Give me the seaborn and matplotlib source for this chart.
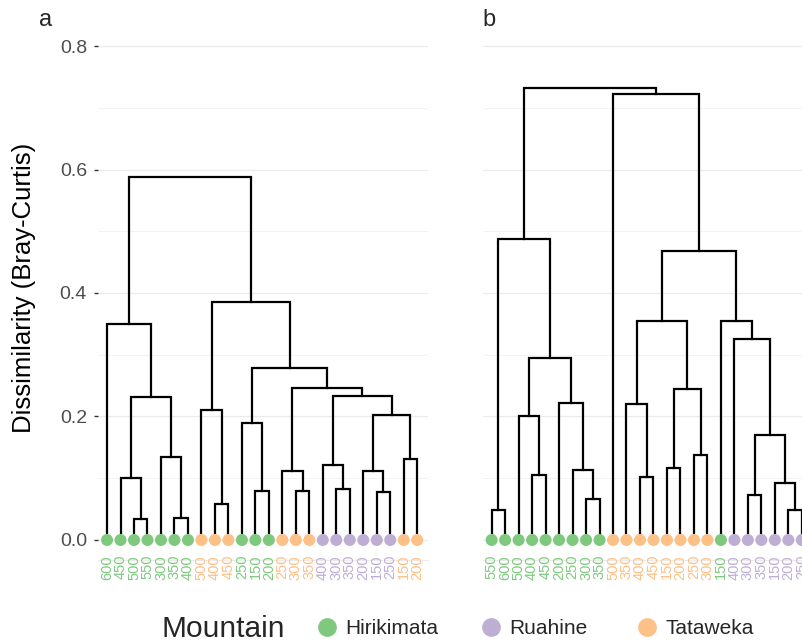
import numpy as np
import pandas as pd
import matplotlib
matplotlib.use("Agg")
import matplotlib.pyplot as plt
import seaborn as sns
from matplotlib.lines import Line2D

# Mountain colours
mountains = ["Hirikimata", "Ruahine", "Tataweka"]
mountain_colors = {"Hirikimata": "#7FC97F", "Ruahine": "#BEAED4", "Tataweka": "#FDC086"}
code_to_mountain = {"H": "Hirikimata", "R": "Ruahine", "T": "Tataweka"}

# ---- panel a: leaves in dendrogram order ----
a_elevation = [600, 450, 500, 550, 300, 350, 400, 500, 400, 450, 250, 150,
               200, 250, 300, 350, 400, 300, 350, 200, 150, 250, 150, 200]
a_mountain = ["H"] * 7 + ["T"] * 3 + ["H"] * 3 + ["T"] * 3 + ["R"] * 6 + ["T"] * 2
# merges: node ids 0..23 are leaves, 24+k is the k-th merge
a_merge_left = [2, 1, 5, 4, 25, 0, 8, 7, 11, 10, 14, 13, 17, 16, 20, 19, 22, 39, 37, 35, 33, 31, 29]
a_merge_right = [3, 24, 6, 26, 27, 28, 9, 30, 12, 32, 15, 34, 18, 36, 21, 38, 23, 40, 41, 42, 43, 44, 45]
a_merge_height = [0.034, 0.101, 0.036, 0.134, 0.232, 0.350, 0.059, 0.210, 0.080, 0.189, 0.079, 0.111,
                  0.083, 0.122, 0.077, 0.112, 0.131, 0.203, 0.233, 0.246, 0.278, 0.386, 0.588]

# ---- panel b: leaves in dendrogram order ----
b_elevation = [550, 600, 500, 400, 450, 200, 250, 300, 350, 500, 350, 400,
               450, 150, 200, 250, 300, 150, 400, 300, 350, 150, 200, 250]
b_mountain = ["H"] * 9 + ["T"] * 8 + ["H"] + ["R"] * 6
b_merge_left = [0, 3, 2, 7, 6, 5, 26, 24, 11, 10, 13, 15, 34, 33, 19, 22, 21, 38, 18, 17, 37, 9, 31]
b_merge_right = [1, 4, 25, 8, 27, 28, 29, 30, 12, 32, 14, 16, 35, 36, 20, 23, 39, 40, 41, 42, 43, 44, 45]
b_merge_height = [0.049, 0.105, 0.201, 0.067, 0.113, 0.222, 0.294, 0.488, 0.102, 0.220, 0.116, 0.137,
                  0.245, 0.354, 0.073, 0.049, 0.093, 0.170, 0.325, 0.355, 0.468, 0.722, 0.732]

y_ticks = [0.0, 0.2, 0.4, 0.6, 0.8]
y_minor = [0.1, 0.3, 0.5, 0.7]

sns.set_theme(style="white")
plt.rcParams["font.family"] = ["Liberation Sans", "DejaVu Sans"]

W, H = 803, 644
fig = plt.figure(figsize=(W / 100, H / 100), dpi=100)
ax_a = fig.add_axes([98 / W, 96 / H, 330 / W, 520.5 / H])
ax_b = fig.add_axes([483 / W, 96 / H, 330 / W, 520.5 / H])


def draw_dendrogram(ax, elevation, mcodes, left, right, heights, xlim, show_y):
    n = len(elevation)
    xpos = list(range(n))
    ypos = [0.0] * n
    for l, r, h in zip(left, right, heights):
        xl, xr = xpos[l], xpos[r]
        ax.plot([xl, xl, xr, xr], [ypos[l], h, h, ypos[r]], color="black", lw=1.6,
                solid_joinstyle="miter", solid_capstyle="projecting", zorder=2)
        xpos.append((xl + xr) / 2)
        ypos.append(h)

    leaves = pd.DataFrame({
        "pos": np.arange(n),
        "y": np.zeros(n),
        "mountain": [code_to_mountain[c] for c in mcodes],
        "elevation": [str(e) for e in elevation],
    })
    sns.scatterplot(data=leaves, x="pos", y="y", hue="mountain", palette=mountain_colors,
                    s=75, linewidth=0, legend=False, ax=ax, zorder=3, clip_on=False)

    ax.set_xlim(*xlim)
    ax.set_ylim(-0.013, 0.83)
    ax.set_yticks(y_ticks)
    ax.set_yticks(y_minor, minor=True)
    ax.grid(which="major", axis="y", color="#ebebeb", lw=0.9)
    ax.grid(which="minor", axis="y", color="#f2f2f2", lw=0.7)
    ax.grid(which="major", axis="x", visible=False)
    ax.axhline(-0.032, color="#ebebeb", lw=0.9, clip_on=False, zorder=0)
    for s in ax.spines.values():
        s.set_visible(False)

    ax.set_xticks(leaves["pos"])
    ax.set_xticklabels(leaves["elevation"], rotation=90, fontsize=10.5)
    for lab, m in zip(ax.get_xticklabels(), leaves["mountain"]):
        lab.set_color(mountain_colors[m])
    ax.tick_params(axis="x", length=0, pad=5)
    ax.set_xlabel("")
    ax.set_ylabel("")
    if show_y:
        ax.set_yticklabels([f"{t:.1f}" for t in y_ticks])
        ax.tick_params(axis="y", which="major", length=3, width=1, color="#333333",
                       labelsize=14, labelcolor="#4d4d4d", pad=5, left=True)
        ax.tick_params(axis="y", which="minor", length=0)
    else:
        ax.set_yticklabels([])
        ax.tick_params(axis="y", which="both", length=0)


draw_dendrogram(ax_a, a_elevation, a_mountain, a_merge_left, a_merge_right, a_merge_height,
                (-0.67, 23.8), True)
draw_dendrogram(ax_b, b_elevation, b_mountain, b_merge_left, b_merge_right, b_merge_height,
                (-0.64, 23.83), False)

ax_a.set_ylabel("Dissimilarity (Bray-Curtis)", fontsize=18.5, color="black", labelpad=17)

fig.text(39 / W, 1 - 20 / H, "a", fontsize=17, va="center", ha="left")
fig.text(482 / W, 1 - 20 / H, "b", fontsize=17, va="center", ha="left")

# legend along the bottom: title on the left, one entry per mountain
legend_y = 1 - 629 / H
fig.text(162 / W, legend_y, "Mountain", fontsize=21.5, va="center", ha="left")
legend_fs = 15
handle_px = legend_fs * 100 / 72
for m, cx in zip(mountains, [327, 491, 647]):
    h = Line2D([], [], marker="o", ls="", markersize=13.5, markeredgewidth=0,
               color=mountain_colors[m])
    fig.legend([h], [m], loc="center left", bbox_to_anchor=((cx - handle_px / 2) / W, legend_y),
               frameon=False, fontsize=legend_fs, handlelength=1.0, handletextpad=0.4,
               borderpad=0, borderaxespad=0)

fig.savefig("out.png", dpi=100)
